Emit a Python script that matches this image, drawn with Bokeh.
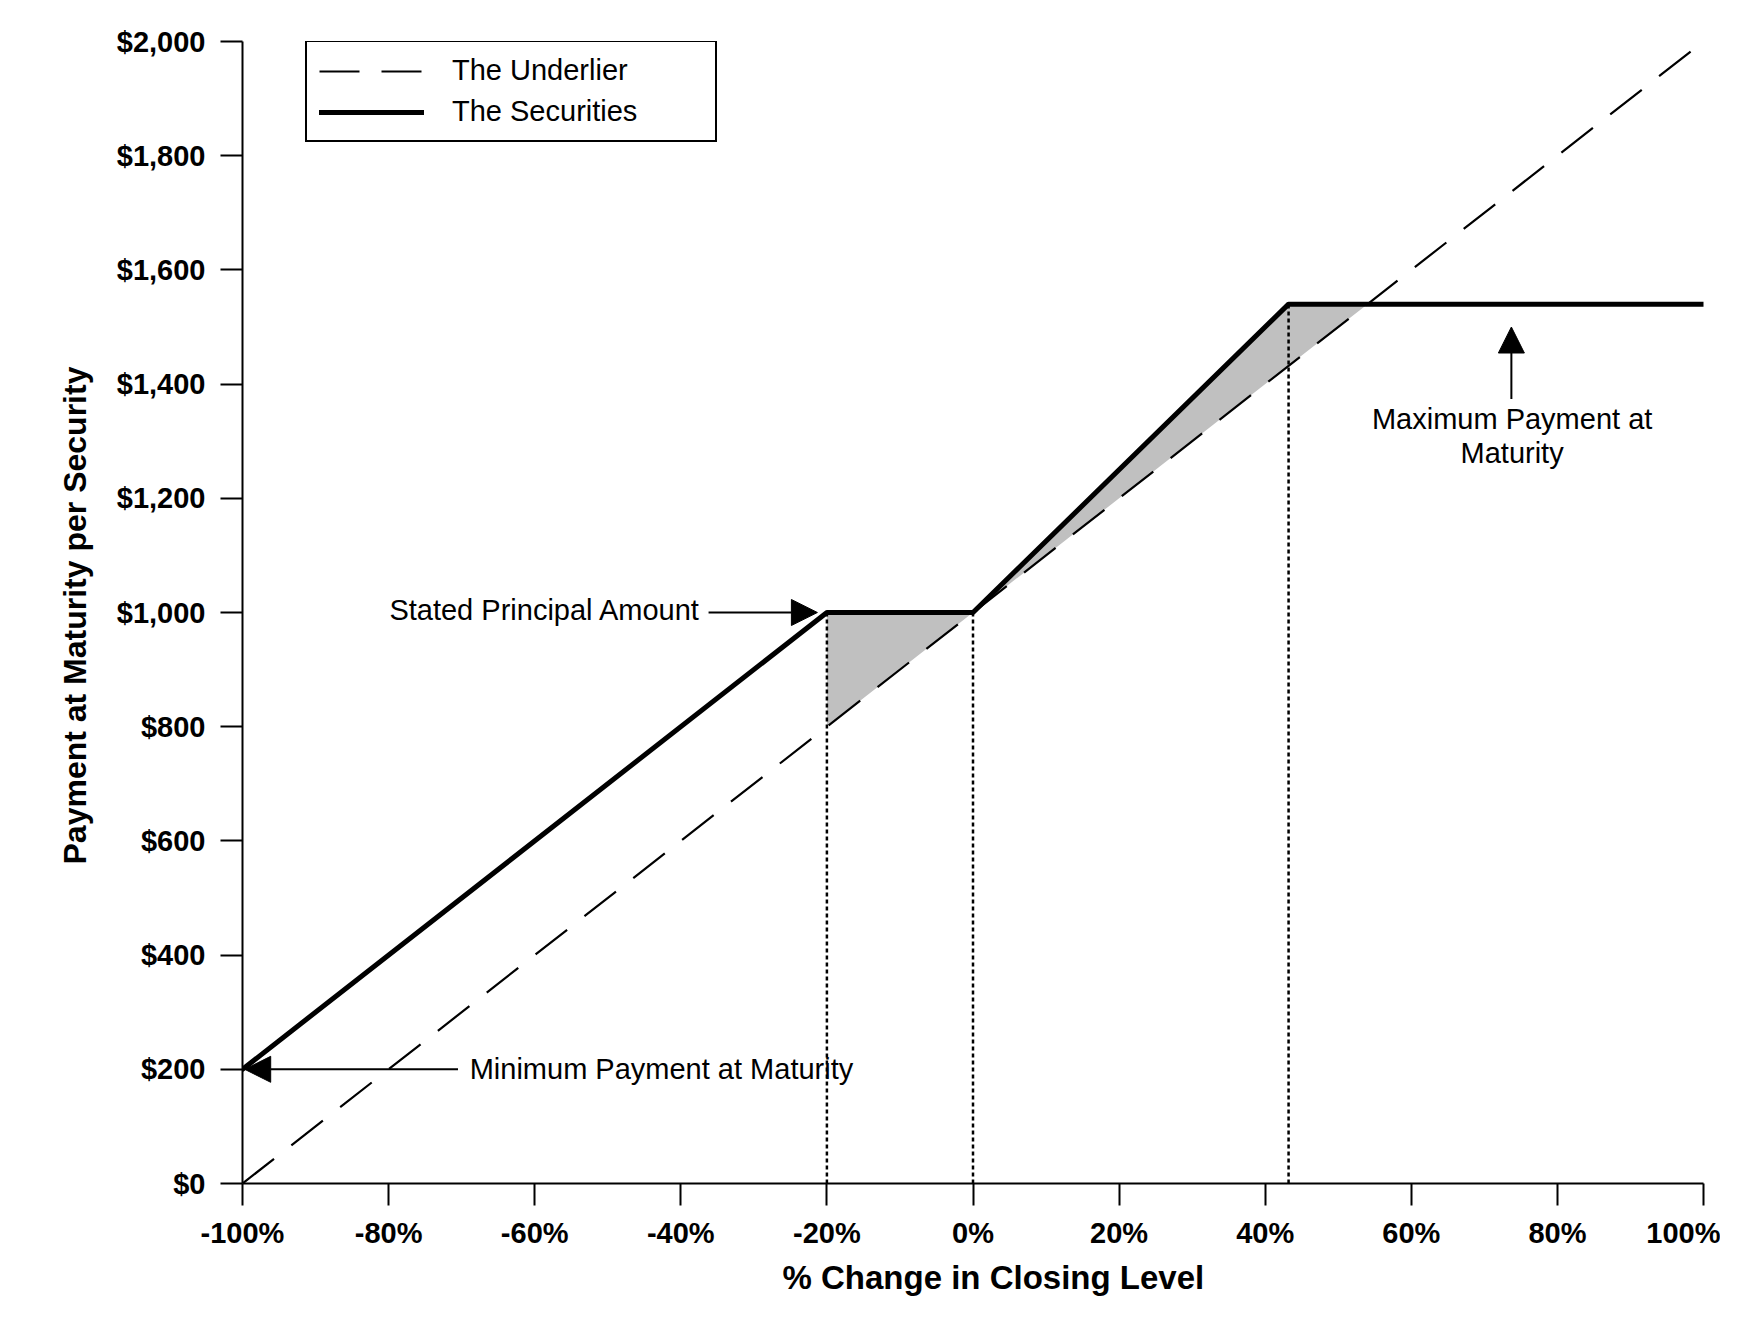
import numpy as np
from bokeh.plotting import figure
from bokeh.models import (Range1d, NumeralTickFormatter, PrintfTickFormatter, FixedTicker,
                          Legend, LegendItem, Arrow, NormalHead, Label, Title)
from bokeh.embed import file_html
from bokeh.resources import INLINE

# ---- data ----
pct_change = [-100, -20, 0, 43.2, 100]            # % change in closing level (breakpoints)
securities = [200, 1000, 1000, 1540, 1540]        # payment at maturity per security
underlier_x = [-100, 100]
underlier_y = [0, 2000]
x_ticks = [-100, -80, -60, -40, -20, 0, 20, 40, 60, 80, 100]
y_ticks = [0, 200, 400, 600, 800, 1000, 1200, 1400, 1600, 1800, 2000]
dotted_x = [-20, 0, 43.2]

legend_labels = ["The Underlier", "The Securities"]
x_title = "% Change in Closing Level"
y_title = "Payment at Maturity per Security"
ann_stated = "Stated Principal Amount"
ann_min = "Minimum Payment at Maturity"
ann_max = ["Maximum Payment at", "Maturity"]

FONT = "Liberation Sans"

p = figure(width=1720, height=1300, output_backend="svg", toolbar_location=None,
           x_range=Range1d(-100, 100), y_range=Range1d(0, 2000),
           min_border_left=242, min_border_right=17, min_border_top=41, min_border_bottom=117)
p.outline_line_color = None
p.xgrid.visible = False
p.ygrid.visible = False
p.background_fill_color = "white"

# shaded region between securities and underlier (above buffer / leverage)
cap = securities[-1]
cross = np.interp(cap, underlier_y, underlier_x)
sx = np.array([-20, 0, 43.2, cross])
sec_top = np.interp(sx, pct_change, securities)
und_bot = np.interp(sx, underlier_x, underlier_y)
p.varea(x=sx, y1=und_bot, y2=sec_top, fill_color="#c0c0c0", fill_alpha=1.0)

# dotted verticals
dotted_top = list(np.interp(dotted_x, pct_change, securities))
p.segment(x0=dotted_x, y0=[0] * len(dotted_x), x1=dotted_x, y1=dotted_top,
          line_color="black", line_width=2.5, line_dash="4 3")

und = p.line(underlier_x, underlier_y, line_color="black", line_width=2.2, line_dash="40 22")
sec = p.line(pct_change, securities, line_color="black", line_width=5,
             line_join="round", line_cap="round")

# axes
for ax in (p.xaxis[0], p.yaxis[0]):
    ax.axis_line_color = "black"
    ax.axis_line_width = 2
    ax.major_tick_line_color = "black"
    ax.major_tick_line_width = 2
    ax.major_tick_in = 0
    ax.major_tick_out = 22
    ax.minor_tick_line_color = None
    ax.major_label_text_font = FONT
    ax.major_label_text_font_style = "bold"
    ax.major_label_text_font_size = "29px"
    ax.major_label_text_color = "black"

p.xaxis.ticker = FixedTicker(ticks=x_ticks)
p.yaxis.ticker = FixedTicker(ticks=y_ticks)
p.xaxis.formatter = PrintfTickFormatter(format="%d%%")
p.yaxis.formatter = NumeralTickFormatter(format="$0,0")
p.xaxis.major_label_standoff = 11
p.yaxis.major_label_standoff = 15

# axis titles (side titles, placed like the original)
p.add_layout(Title(text=x_title, align="left", offset=540, standoff=10,
                   text_font=FONT, text_font_style="bold", text_font_size="33px",
                   text_color="black"), "below")
p.add_layout(Title(text=y_title, align="left", offset=319, standoff=41,
                   text_font=FONT, text_font_style="bold", text_font_size="32px",
                   text_color="black"), "left")

# legend
legend = Legend(items=[LegendItem(label=legend_labels[0], renderers=[und]),
                       LegendItem(label=legend_labels[1], renderers=[sec])],
                location=(63, 1041), margin=0, padding=12, spacing=8,
                glyph_width=105, glyph_height=32, label_height=32, label_width=251,
                label_standoff=28, label_text_font=FONT, label_text_font_size="29px",
                label_text_color="black", border_line_color="black", border_line_width=2,
                border_line_alpha=1.0, background_fill_color="white", background_fill_alpha=1.0)
p.add_layout(legend)

# annotations
def arrow(x0, y0, x1, y1):
    p.add_layout(Arrow(end=NormalHead(size=26, fill_color="black", line_color="black"),
                       x_start=x0, y_start=y0, x_end=x1, y_end=y1,
                       line_color="black", line_width=2))

arrow(-36.2, securities[1], -21.3, securities[1])
arrow(-70.5, securities[0], -99.7, securities[0])
arrow(73.7, 1374, 73.7, 1500)

def label(x, y, text, align):
    p.add_layout(Label(x=x, y=y, text=text, text_align=align, text_baseline="alphabetic",
                       text_font=FONT, text_font_size="29px", text_color="black"))

label(-37.3, 1004, ann_stated, "right")
label(-68.9, 200, ann_min, "left")
label(73.8, 1339, ann_max[0], "center")
label(73.8, 1279, ann_max[1], "center")

open("out.html", "w").write(file_html(p, INLINE))
